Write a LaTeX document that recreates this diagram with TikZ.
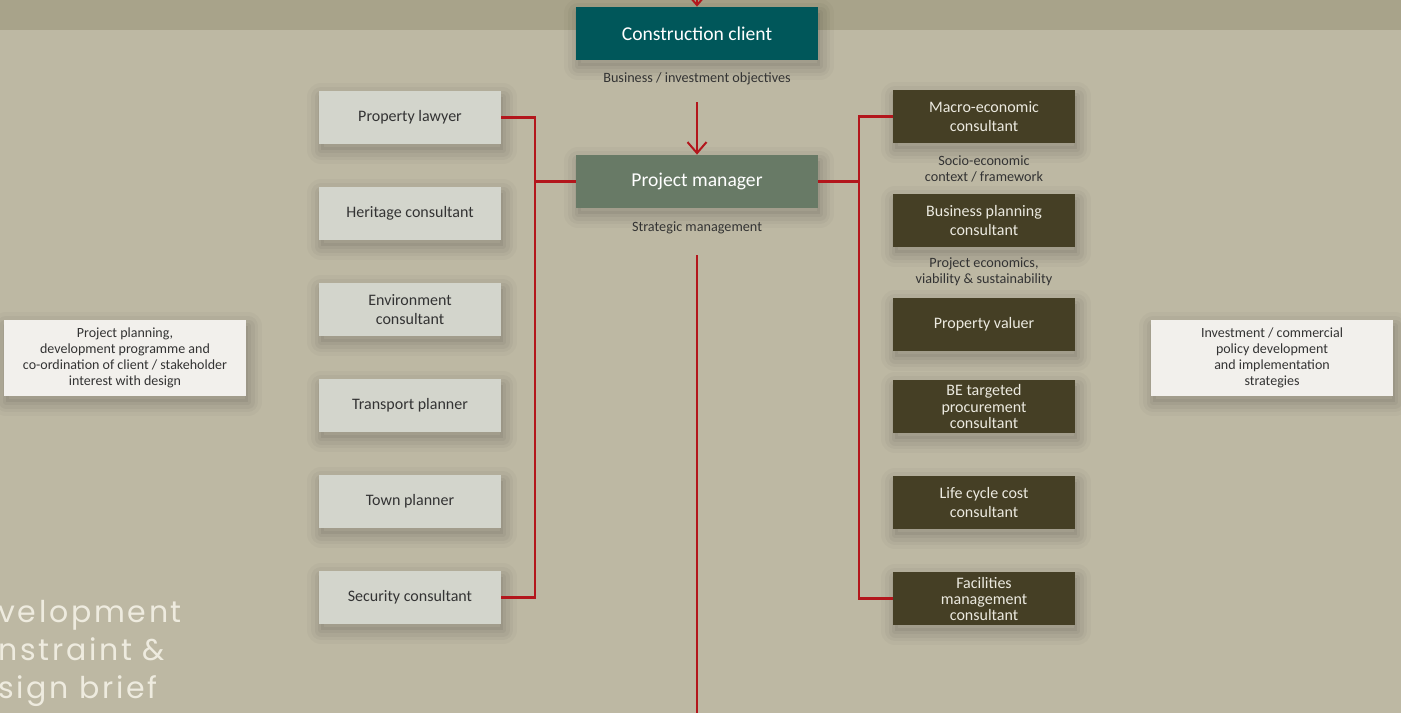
\documentclass[tikz,border=0pt]{standalone}
\usepackage{fontspec}
\setmainfont{Carlito}
\newfontfamily\bigfont[LetterSpace=9]{Poppins}
\usetikzlibrary{arrows.meta, positioning}
\definecolor{bgmain}{HTML}{BDB8A3}
\definecolor{bgtop}{HTML}{A8A38A}
\definecolor{clientteal}{HTML}{00575A}
\definecolor{pmgreen}{HTML}{687A66}
\definecolor{boxgray}{HTML}{D3D5CC}
\definecolor{boxolive}{HTML}{453F25}
\definecolor{notefill}{HTML}{F2F0EC}
\definecolor{linkred}{HTML}{B3161C}
\definecolor{textdark}{HTML}{333333}
\definecolor{textlight}{HTML}{ECEAE0}
\definecolor{bigtext}{HTML}{EEEBDF}
\tikzstyle{softshadow}=[
	preaction={draw=black, draw opacity=0.025, line width=14pt, line join=round, transform canvas={shift={(1pt,-3pt)}}},
	preaction={draw=black, draw opacity=0.03, line width=10pt, line join=round, transform canvas={shift={(1pt,-3pt)}}},
	preaction={draw=black, draw opacity=0.035, line width=6.5pt, line join=round, transform canvas={shift={(1pt,-3pt)}}},
	preaction={draw=black, draw opacity=0.04, line width=3pt, line join=round, transform canvas={shift={(1pt,-3pt)}}},
	preaction={fill=black, fill opacity=0.05, transform canvas={shift={(1pt,-3pt)}}}]
\tikzstyle{box}=[shape=rectangle, minimum width=91pt, minimum height=26.5pt, inner sep=1pt, align=center, font=\fontsize{8}{9.5}\selectfont, softshadow]
\tikzstyle{boxlight}=[box, fill=boxgray, text=textdark]
\tikzstyle{boxdark}=[box, fill=boxolive, text=textlight]
\tikzstyle{boxmain}=[box, minimum width=121pt, font=\fontsize{9.8}{11}\selectfont, text=white]
\tikzstyle{notebox}=[box, minimum width=121pt, minimum height=38pt, fill=notefill, text=textdark, font=\fontsize{7}{8}\selectfont]
\tikzstyle{caption}=[align=center, text=textdark, font=\fontsize{7.1}{8}\selectfont]
\tikzstyle{link}=[draw=linkred, line width=1.1pt]
\tikzstyle{tip}=[-{Straight Barb[length=5.5pt, width=9.5pt, line width=1pt]}]
\begin{document}
\begin{tikzpicture}[x=0.5pt, y=-0.5pt]
\useasboundingbox (0,0) rectangle (1401,713);
\fill[bgmain] (0,0) rectangle (1401,713);
\fill[bgtop] (0,0) rectangle (1401,30);
% centre column
\node[boxmain, fill=clientteal] (cc) at (697,33.5) {Construction client};
\node[caption] (bizobj) at (697,79) {Business / investment objectives};
\node[boxmain, fill=pmgreen] (pm) at (697,181.5) {Project manager};
\node[caption] (strat) at (697,228) {Strategic management};
\coordinate (topin) at (697,0);
\coordinate (bottom) at (697,713);
\draw[link, tip] (topin) -- (cc.north);
\draw[link, tip, shorten <=5pt] (bizobj.south) -- (pm.north);
\draw[link, shorten <=7pt] (strat.south) -- (bottom);
% left consultants
\foreach \i/\t in {1/Property lawyer, 2/Heritage consultant, 3/{Environment\\consultant}, 4/Transport planner, 5/Town planner, 6/Security consultant}{
	\node[boxlight] (l\i) at (410,21.5+96*\i) {\t};
}
% right consultants
\node[boxdark] (r1) at (984,116.5) {Macro-economic\\consultant};
\node[boxdark] (r2) at (984,220.5) {Business planning\\consultant};
\node[boxdark] (r3) at (984,324.5) {Property valuer};
\node[boxdark, font=\fontsize{8}{8.2}\selectfont] (r4) at (984,406.5) {BE targeted\\procurement\\consultant};
\node[boxdark] (r5) at (984,502.5) {Life cycle cost\\consultant};
\node[boxdark, font=\fontsize{8}{8}\selectfont] (r6) at (984,598.5) {Facilities\\management\\consultant};
\node[caption] (socio) at (984,169) {Socio-economic\\context / framework};
\node[caption] (econ) at (984,272) {Project economics,\\viability \& sustainability};
% buses
\coordinate (ljoin) at (535,181.5);
\coordinate (rjoin) at (859,181.5);
\draw[link] (l1.east) -| (ljoin) |- (l6.east);
\draw[link] (ljoin) -- (pm.west);
\draw[link] (r1.west) -| (rjoin) |- (r6.west);
\draw[link] (pm.east) -- (rjoin);
% notes
\node[notebox] (lnote) at (125,358) {Project planning,\\development programme and\\co-ordination of client / stakeholder\\interest with design};
\node[notebox] (rnote) at (1272,358) {Investment / commercial\\policy development\\and implementation\\strategies};
\node[anchor=west, inner sep=0pt, align=left, text=bigtext, font=\bigfont\fontsize{15}{19}\selectfont] (devtext) at (-2,653) {velopment\\nstraint \&\\sign brief};
\end{tikzpicture}
\end{document}
